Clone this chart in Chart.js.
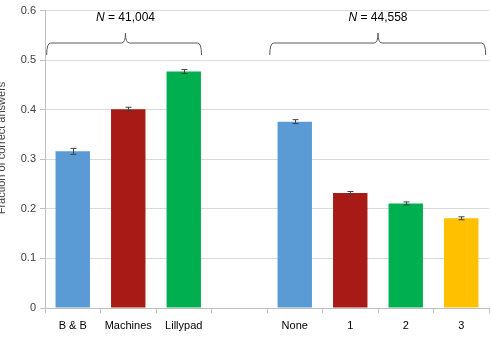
<!DOCTYPE html>
<html>
<head>
<meta charset="utf-8">
<script src="https://cdn.jsdelivr.net/npm/chart.js@4"></script>
<style>
  html, body { margin: 0; padding: 0; background: #fff; }
  #c { display: block; }
</style>
</head>
<body>
<canvas id="c" width="491" height="339"></canvas>
<script>
// ---------------------------
// Data
// ---------------------------
const labels = ["B & B", "Machines", "Lillypad", "", "None", "1", "2", "3"];
const fractions = [0.316, 0.401, 0.477, null, 0.376, 0.232, 0.211, 0.181];
const errors = [0.006, 0.004, 0.004, null, 0.004, 0.003, 0.003, 0.003];
const barColors = ["#5b9bd5", "#a81a15", "#00b050", "#ffffff", "#5b9bd5", "#a81a15", "#00b050", "#ffc000"];
const yTicks = [0, 0.1, 0.2, 0.3, 0.4, 0.5, 0.6];
const groupSizes = ["41,004", "44,558"];

const labelFont = "'Liberation Sans', Arial, sans-serif";

// error bars + braces + y title
const extras = {
  id: "extras",
  afterDatasetsDraw(chart) {
    const ctx = chart.ctx;
    const x = chart.scales.x, y = chart.scales.y;

    // error bars
    ctx.save();
    ctx.strokeStyle = "#404040";
    ctx.lineWidth = 1;
    fractions.forEach((v, i) => {
      if (v == null) return;
      const px = Math.round(x.getPixelForValue(i)) + 0.5;
      const top = y.getPixelForValue(v + errors[i]);
      const bot = y.getPixelForValue(v - errors[i]);
      ctx.beginPath();
      ctx.moveTo(px, top); ctx.lineTo(px, bot);
      ctx.moveTo(px - 3, top); ctx.lineTo(px + 3, top);
      ctx.moveTo(px - 3, bot); ctx.lineTo(px + 3, bot);
      ctx.stroke();
    });
    ctx.restore();

    // braces
    const braces = [
      { from: -0.47, to: 2.32, tip: 0.95, n: groupSizes[0] },
      { from: 3.55, to: 7.44, tip: 5.5, n: groupSizes[1] }
    ];
    ctx.save();
    ctx.strokeStyle = "#595959";
    ctx.lineWidth = 1;
    braces.forEach(b => {
      const x1 = x.getPixelForValue(b.from);
      const x2 = x.getPixelForValue(b.to);
      const xm = x.getPixelForValue(b.tip);
      const yb = 55, yl = 43, yt = 33, r = 4;
      ctx.beginPath();
      ctx.moveTo(x1, yb);
      ctx.quadraticCurveTo(x1, yl, x1 + r, yl);
      ctx.lineTo(xm - r, yl);
      ctx.quadraticCurveTo(xm, yl, xm, yt);
      ctx.quadraticCurveTo(xm, yl, xm + r, yl);
      ctx.lineTo(x2 - r, yl);
      ctx.quadraticCurveTo(x2, yl, x2, yb);
      ctx.stroke();

      // label: italic N, then " = value"
      ctx.fillStyle = "#000";
      ctx.textBaseline = "middle";
      ctx.font = "italic 12px " + labelFont;
      const nW = ctx.measureText("N").width;
      ctx.font = "12px " + labelFont;
      const rest = " = " + b.n;
      const rW = ctx.measureText(rest).width;
      const sx = xm - (nW + rW) / 2;
      ctx.font = "italic 12px " + labelFont;
      ctx.textAlign = "left";
      ctx.fillText("N", sx, 18);
      ctx.font = "12px " + labelFont;
      ctx.fillText(rest, sx + nW, 18);
    });
    ctx.restore();

    // y axis title (partly cut at the left edge, like the source)
    ctx.save();
    ctx.translate(1.5, 148);
    ctx.rotate(-Math.PI / 2);
    ctx.fillStyle = "#404040";
    ctx.font = "11px " + labelFont;
    ctx.textAlign = "center";
    ctx.textBaseline = "middle";
    ctx.fillText("Fraction of correct answers", 0, 0);
    ctx.restore();
  }
};

new Chart(document.getElementById("c"), {
  type: "bar",
  data: {
    labels: labels,
    datasets: [{
      data: fractions,
      backgroundColor: barColors,
      categoryPercentage: 1,
      barPercentage: 0.62
    }]
  },
  options: {
    responsive: false,
    animation: false,
    layout: { padding: { top: 8, right: 2, left: 0, bottom: 0 } },
    plugins: {
      legend: { display: false },
      tooltip: { enabled: false }
    },
    scales: {
      x: {
        offset: true,
        grid: {
          offset: true,
          drawOnChartArea: false,
          drawTicks: true,
          tickLength: 5,
          color: "#bfbfbf"
        },
        border: { color: "#bfbfbf" },
        ticks: {
          color: "#000",
          font: { family: labelFont, size: 11 },
          padding: 6,
          maxRotation: 0,
          autoSkip: false
        },
        afterFit(s) { s.height = 31; }
      },
      y: {
        min: 0,
        max: 0.6,
        afterBuildTicks(s) { s.ticks = yTicks.map(v => ({ value: v })); },
        grid: {
          color: "#d9d9d9",
          tickLength: 5,
          tickColor: "#bfbfbf"
        },
        border: { color: "#bfbfbf" },
        ticks: {
          color: "#404040",
          font: { family: labelFont, size: 11 },
          padding: 4,
          callback: v => v === 0 ? "0" : v.toFixed(1)
        },
        afterFit(s) { s.width = 45; }
      }
    }
  },
  plugins: [extras]
});
</script>
</body>
</html>
